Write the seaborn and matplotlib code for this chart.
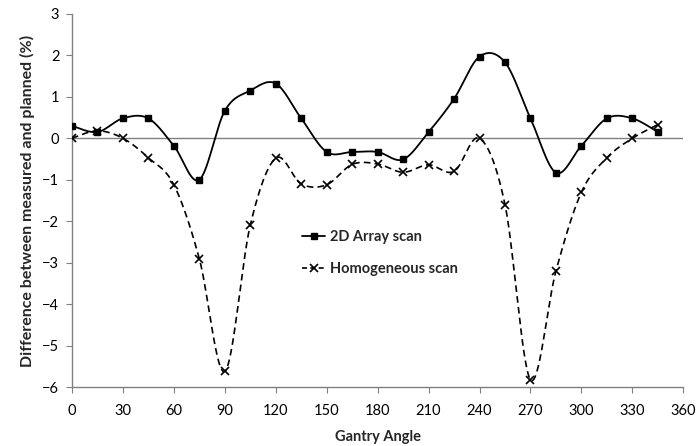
import numpy as np
import pandas as pd
import matplotlib
matplotlib.use("Agg")
import matplotlib.pyplot as plt
import seaborn as sns
from matplotlib.lines import Line2D

angles = [0, 15, 30, 45, 60, 75, 90, 105, 120, 135, 150, 165, 180, 195, 210, 225,
          240, 255, 270, 285, 300, 315, 330, 345]
array_scan = [0.30, 0.15, 0.48, 0.48, -0.18, -1.00, 0.66, 1.15, 1.32, 0.48, -0.33, -0.33,
              -0.33, -0.51, 0.15, 0.95, 1.97, 1.83, 0.48, -0.83, -0.18, 0.48, 0.48, 0.15]
homog_scan = [0.00, 0.18, 0.00, -0.47, -1.12, -2.90, -5.62, -2.10, -0.48, -1.10, -1.12, -0.63,
              -0.62, -0.82, -0.64, -0.80, 0.00, -1.60, -5.82, -3.20, -1.30, -0.47, 0.00, 0.33]
x_ticks = list(range(0, 361, 30))
y_ticks = list(range(-6, 4))

sns.set_theme(style="white")
plt.rcParams['font.family'] = ['Lato', 'DejaVu Sans']


def smooth(xs, ys, n=30):
    """Excel-style smoothed line (Catmull-Rom Bezier) for rendering."""
    P = np.column_stack([xs, ys]).astype(float)
    P = np.vstack([P[0], P, P[-1]])
    out = []
    t = np.linspace(0, 1, n)[:, None]
    for i in range(1, len(P) - 2):
        p0, p1, p2, p3 = P[i - 1], P[i], P[i + 1], P[i + 2]
        b1 = p1 + (p2 - p0) / 6
        b2 = p2 - (p3 - p1) / 6
        seg = ((1 - t) ** 3) * p1 + 3 * ((1 - t) ** 2) * t * b1 + 3 * (1 - t) * t ** 2 * b2 + t ** 3 * p2
        out.append(seg if i == 1 else seg[1:])
    s = np.vstack(out)
    return s[:, 0], s[:, 1]


fig = plt.figure(figsize=(6.98, 4.46), dpi=100)
ax = fig.add_axes([0.103, 0.132, 0.876, 0.837])

ax.axhline(0, color="#808080", lw=1.0, zorder=1)

sx, sy = smooth(angles, array_scan)
hx, hy = smooth(angles, homog_scan)
df_a = pd.DataFrame({"x": sx, "y": sy})
df_h = pd.DataFrame({"x": hx, "y": hy})
sns.lineplot(data=df_a, x="x", y="y", ax=ax, color="black", lw=1.3, sort=False, zorder=3)
sns.lineplot(data=df_h, x="x", y="y", ax=ax, color="black", lw=1.2, sort=False,
             dashes=False, zorder=3).lines[-1].set_dashes([4, 2.5])
ax.plot(angles, array_scan, ls="none", marker="s", ms=4.5, color="black", zorder=4)
ax.plot(angles, homog_scan, ls="none", marker="x", ms=6, mew=1.2, color="black", zorder=4)

ax.set_xlim(0, 360)
ax.set_ylim(-6, 3)
ax.set_xticks(x_ticks)
ax.set_yticks(y_ticks)
ax.tick_params(axis="both", labelsize=10.5, colors="black", length=4, width=0.8,
               direction="out", bottom=True, left=True)
ax.tick_params(axis="x", pad=8)
ax.tick_params(axis="y", pad=5)
for s in ["top", "right"]:
    ax.spines[s].set_visible(False)
for s in ["left", "bottom"]:
    ax.spines[s].set_color("#808080")
    ax.spines[s].set_linewidth(1.0)
ax.tick_params(axis="both", color="#808080")

ax.set_xlabel("Gantry Angle", fontsize=10.5, fontweight="bold", labelpad=9)
ax.set_ylabel("Difference between measured and planned (%)", fontsize=11.5,
              fontweight="bold", labelpad=5)

handles = [
    Line2D([], [], color="black", lw=1.3, marker="s", ms=4.5),
    Line2D([], [], color="black", lw=1.2, ls=(0, (3, 2)), marker="x", ms=6, mew=1.2),
]
ax.legend(handles, ["2D Array scan", "Homogeneous scan"], frameon=False,
          loc="upper left", bbox_to_anchor=(0.355, 0.455), handlelength=1.6,
          handletextpad=0.3, labelspacing=1.2,
          prop={"size": 10.5, "weight": "bold"})

fig.savefig("out.png", dpi=100)
